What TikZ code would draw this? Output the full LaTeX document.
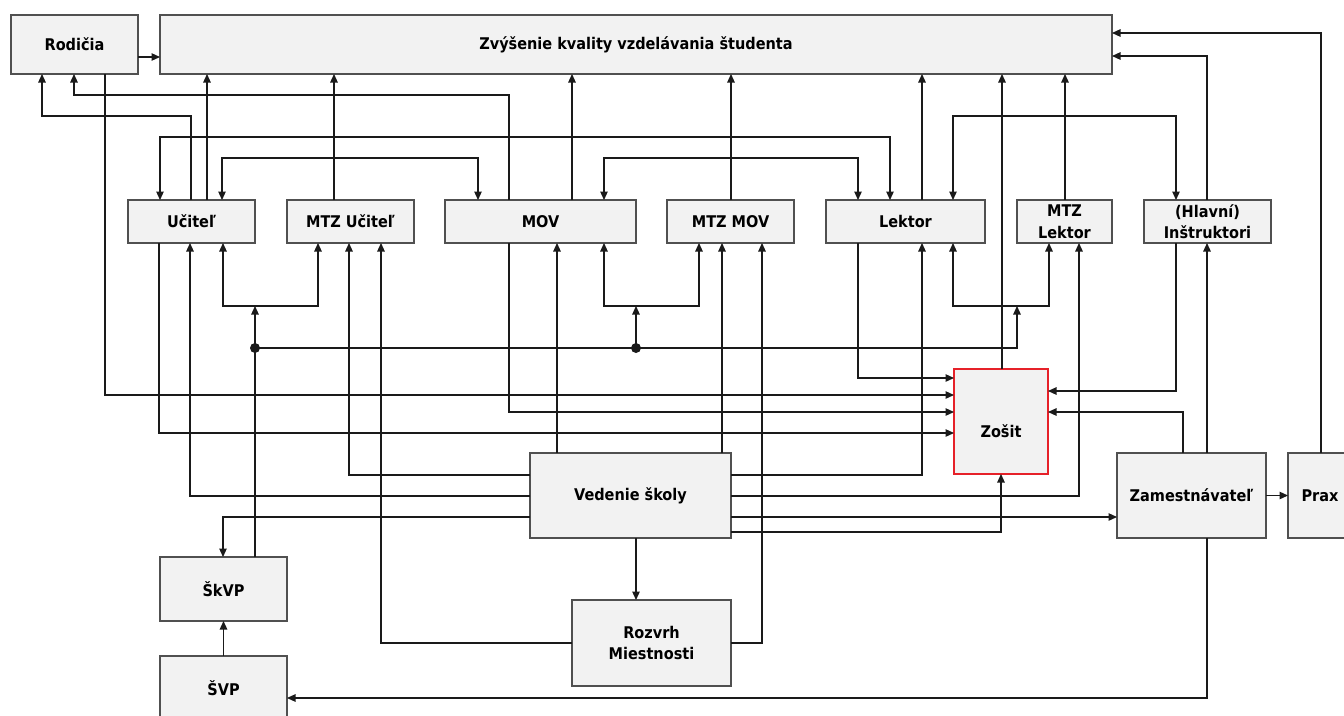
\documentclass[tikz,border=0pt]{standalone}
\usepackage{fontspec}
\setmainfont{DejaVu Sans Condensed}
\usetikzlibrary{arrows.meta,positioning}
\definecolor{KvInk}{HTML}{1A1A1A}
\definecolor{KvFrame}{HTML}{505050}
\definecolor{KvPaper}{HTML}{F2F2F2}
\definecolor{KvRed}{HTML}{E62129}
\tikzset{
  kvbox/.style={
    draw=KvFrame,
    fill=KvPaper,
    line width=1.6pt,
    outer sep=0pt,
    align=center,
    inner sep=0pt,
    font=\fontsize{16.1}{21.5}\selectfont\bfseries
  },
  kvfocus/.style={
    kvbox,
    draw=KvRed,
    line width=2.2pt
  },
  kvline/.style={line width=1.2pt,draw=KvInk},
  kvarrow/.style={kvline,-{Triangle[length=8.5pt,width=7.5pt]}},
  kvboth/.style={kvline,{Triangle[length=8.5pt,width=7.5pt]}-{Triangle[length=8.5pt,width=7.5pt]}},
  kvdot/.style={circle,fill=KvInk,inner sep=0pt,minimum size=10pt}
}
\begin{document}
\begin{tikzpicture}[x=1pt,y=-1pt,node distance=32pt]
  \path[use as bounding box,fill=white] (0,0) rectangle (1344,715);
  \node[kvbox,minimum width=127pt,minimum height=59pt] (rodicia) at (74.5,44.5) {Rodičia};
  \node[kvbox,right=22pt of rodicia,minimum width=952pt,minimum height=59pt] (ciel) {Zvýšenie kvality vzdelávania študenta};
  \node[kvbox,minimum width=127pt,minimum height=43pt] (ucitel) at (191.5,221.5) {Učiteľ};
  \node[kvbox,right=of ucitel,minimum width=127pt,minimum height=43pt] (mtzucitel) {MTZ Učiteľ};
  \node[kvbox,right=31pt of mtzucitel,minimum width=191pt,minimum height=43pt] (mov) {MOV};
  \node[kvbox,right=31pt of mov,minimum width=127pt,minimum height=43pt] (mtzmov) {MTZ MOV};
  \node[kvbox,right=of mtzmov,minimum width=159pt,minimum height=43pt] (lektor) {Lektor};
  \node[kvbox,right=of lektor,minimum width=95pt,minimum height=43pt] (mtzlektor) {MTZ\\Lektor};
  \node[kvbox,right=of mtzlektor,minimum width=127pt,minimum height=43pt] (instruktori) {(Hlavní)\\Inštruktori};
  \node[kvfocus,minimum width=94pt,minimum height=105pt,text height=33pt,text depth=2pt] (zosit) at (1001,421.5) {Zošit};
  \node[kvbox,minimum width=201pt,minimum height=85pt] (vedenie) at (630.5,495.5) {Vedenie školy};
  \node[kvbox,minimum width=149pt,minimum height=85pt] (zamest) at (1191.5,495.5) {Zamestnávateľ};
  \node[kvbox,right=22pt of zamest,minimum width=64pt,minimum height=85pt] (prax) {Prax};
  \node[kvbox,minimum width=159pt,minimum height=86pt] (rozvrh) at (651.5,643) {Rozvrh\\Miestnosti};
  \node[kvbox,minimum width=127pt,minimum height=64pt] (skvp) at (223.5,589) {ŠkVP};
  \node[kvbox,below=35pt of skvp,minimum width=127pt,minimum height=64pt] (svp) {ŠVP};

  \draw[kvarrow] (rodicia.east |- 0,57) -- (ciel.west |- 0,57);
  \draw[kvarrow] (ucitel.north -| 191,0) |- (42,116) -- (rodicia.south -| 42,0);
  \draw[kvarrow] (mov.north -| 509,0) |- (74,95) -- (rodicia.south -| 74,0);
  \draw[kvarrow] (rodicia.south -| 105,0) |- (zosit.west |- 0,395);
  \draw[kvarrow] (ucitel.north -| 207,0) -- (ciel.south -| 207,0);
  \draw[kvarrow] (mtzucitel.north -| 334,0) -- (ciel.south -| 334,0);
  \draw[kvarrow] (mov.north -| 572,0) -- (ciel.south -| 572,0);
  \draw[kvarrow] (mtzmov.north -| 731,0) -- (ciel.south -| 731,0);
  \draw[kvarrow] (lektor.north -| 922,0) -- (ciel.south -| 922,0);
  \draw[kvarrow] (zosit.north -| 1002,0) -- (ciel.south -| 1002,0);
  \draw[kvarrow] (mtzlektor.north -| 1065,0) -- (ciel.south -| 1065,0);
  \draw[kvarrow] (instruktori.north -| 1207,0) |- (ciel.east |- 0,56);
  \draw[kvarrow] (prax.north -| 1321,0) |- (ciel.east |- 0,33);
  \draw[kvboth] (ucitel.north -| 160,0) |- (890,137) -- (lektor.north -| 890,0);
  \draw[kvboth] (ucitel.north -| 222,0) |- (478,158) -- (mov.north -| 478,0);
  \draw[kvboth] (mov.north -| 604,0) |- (858,158) -- (lektor.north -| 858,0);
  \draw[kvboth] (lektor.north -| 953,0) |- (1176,116) -- (instruktori.north -| 1176,0);

  \draw[kvarrow] (lektor.south -| 858,0) |- (zosit.west |- 0,378);
  \draw[kvarrow] (mov.south -| 509,0) |- (zosit.west |- 0,412);
  \draw[kvarrow] (ucitel.south -| 159,0) |- (zosit.west |- 0,433);
  \draw[kvarrow] (instruktori.south -| 1176,0) |- (zosit.east |- 0,391);
  \draw[kvarrow] (zamest.north -| 1183,0) |- (zosit.east |- 0,412);
  \draw[kvarrow] (zamest.north -| 1207,0) -- (instruktori.south -| 1207,0);
  \draw[kvarrow] (zamest.east) -- (prax.west);
  \draw[kvarrow] (vedenie.east |- 0,517) -- (zamest.west |- 0,517);
  \draw[kvarrow] (vedenie.east |- 0,532) -| (zosit.south -| 1001,0);
  \draw[kvarrow] (vedenie.east |- 0,496) -| (mtzlektor.south -| 1079,0);
  \draw[kvarrow] (vedenie.east |- 0,475) -| (lektor.south -| 922,0);
  \draw[kvarrow] (vedenie.west |- 0,496) -| (ucitel.south -| 190,0);
  \draw[kvarrow] (vedenie.west |- 0,475) -| (mtzucitel.south -| 349,0);
  \draw[kvarrow] (vedenie.west |- 0,517) -| (skvp.north -| 223,0);
  \draw[kvarrow] (vedenie.north -| 557,0) -- (mov.south -| 557,0);
  \draw[kvarrow] (vedenie.north -| 722,0) -- (mtzmov.south -| 722,0);
  \draw[kvarrow] (vedenie.south -| 636,0) -- (rozvrh.north -| 636,0);
  \draw[kvarrow] (rozvrh.west) -| (mtzucitel.south -| 381,0);
  \draw[kvarrow] (rozvrh.east) -| (mtzmov.south -| 762,0);
  \draw[kvarrow] (svp.north) -- (skvp.south);
  \draw[kvarrow] (zamest.south -| 1207,0) |- (svp.east |- 0,698);

  \node[kvdot] (busL) at (255,348) {};
  \node[kvdot] (busM) at (636,348) {};
  \coordinate (forkL) at (255,306);
  \coordinate (forkM) at (636,306);
  \coordinate (forkR) at (1017,306);
  \draw[kvline] (skvp.north -| busL) -- (busL.center) -- (busM.center);
  \draw[kvarrow] (busL.center) -- (forkL);
  \draw[kvarrow] (busM.center) -- (forkM);
  \draw[kvarrow] (busM.center) -| (forkR);
  \draw[kvarrow] (forkL) -| (ucitel.south -| 223,0);
  \draw[kvarrow] (forkL) -| (mtzucitel.south -| 318,0);
  \draw[kvarrow] (forkM) -| (mov.south -| 604,0);
  \draw[kvarrow] (forkM) -| (mtzmov.south -| 699,0);
  \draw[kvarrow] (forkR) -| (lektor.south -| 953,0);
  \draw[kvarrow] (forkR) -| (mtzlektor.south -| 1049,0);
\end{tikzpicture}
\end{document}
